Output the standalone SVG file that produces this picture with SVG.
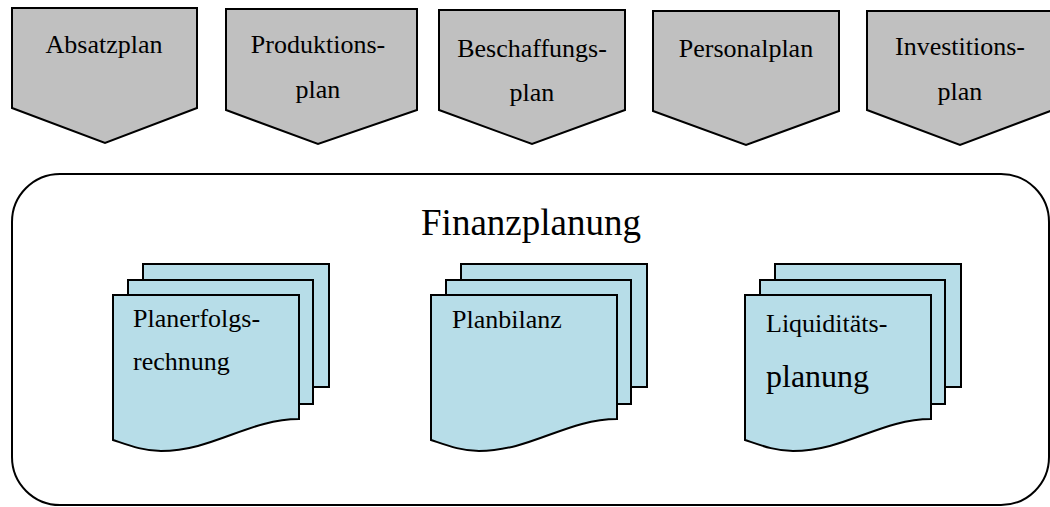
<svg xmlns="http://www.w3.org/2000/svg" width="1050" height="507" viewBox="0 0 1050 507">
<style>
.pent{fill:#c0c0c0;stroke:#000;stroke-width:2;stroke-linejoin:miter}
.sheet{fill:#b7dde8;stroke:#000;stroke-width:2}
.frame{fill:#fff;stroke:#000;stroke-width:2}
.t{font-family:"Liberation Serif","Times New Roman",Times,Tinos,"DejaVu Serif","Noto Serif",serif;fill:#000;font-size:26px}
.c{text-anchor:middle}
</style>
<defs>
<g id="docshape">
<rect class="sheet" x="30" y="-31" width="186" height="123"/>
<rect class="sheet" x="15" y="-15" width="185" height="124"/>
<path class="sheet" d="M0,0 H186 V124 C136,124 100,156 48,156 C30,156 15,150 0,145 Z"/>
</g>
</defs>
<rect id="bg" width="1050" height="507" fill="#fff"/>
<g id="finanzplanung">
<rect class="frame" x="12" y="174" width="1037" height="331" rx="48" ry="48"/>
<text class="t c" x="531" y="235" style="font-size:37px">Finanzplanung</text>
</g>
<g id="absatzplan">
<path class="pent" d="M12,8 H197 V108 L105,143 L12,108 Z"/>
<text class="t c" x="104" y="53">Absatzplan</text>
</g>
<g id="produktionsplan">
<path class="pent" d="M226,9 H417 V110 L318,144 L226,110 Z"/>
<text class="t c" x="318" y="53">Produktions-</text>
<text class="t c" x="318" y="98">plan</text>
</g>
<g id="beschaffungsplan">
<path class="pent" d="M439,10 H625 V110 L532,144 L439,110 Z"/>
<text class="t c" x="532" y="57">Beschaffungs-</text>
<text class="t c" x="532" y="101">plan</text>
</g>
<g id="personalplan">
<path class="pent" d="M653,11 H839 V111 L746,145 L653,111 Z"/>
<text class="t c" x="746" y="57">Personalplan</text>
</g>
<g id="investitionsplan">
<path class="pent" d="M867,11 H1053 V110 L960,145 L867,110 Z"/>
<text class="t c" x="960" y="55">Investitions-</text>
<text class="t c" x="960" y="100">plan</text>
</g>
<g id="planerfolgsrechnung">
<use href="#docshape" transform="translate(113,295)"/>
<text class="t" x="133" y="327">Planerfolgs-</text>
<text class="t" x="133" y="370">rechnung</text>
</g>
<g id="planbilanz">
<use href="#docshape" transform="translate(431,295)"/>
<text class="t" x="452" y="328">Planbilanz</text>
</g>
<g id="liquiditaetsplanung">
<use href="#docshape" transform="translate(745,295)"/>
<text class="t" x="766" y="332">Liquiditäts-</text>
<text class="t" x="766" y="387" style="font-size:32px">planung</text>
</g>
<g id="connectors"></g>
</svg>
